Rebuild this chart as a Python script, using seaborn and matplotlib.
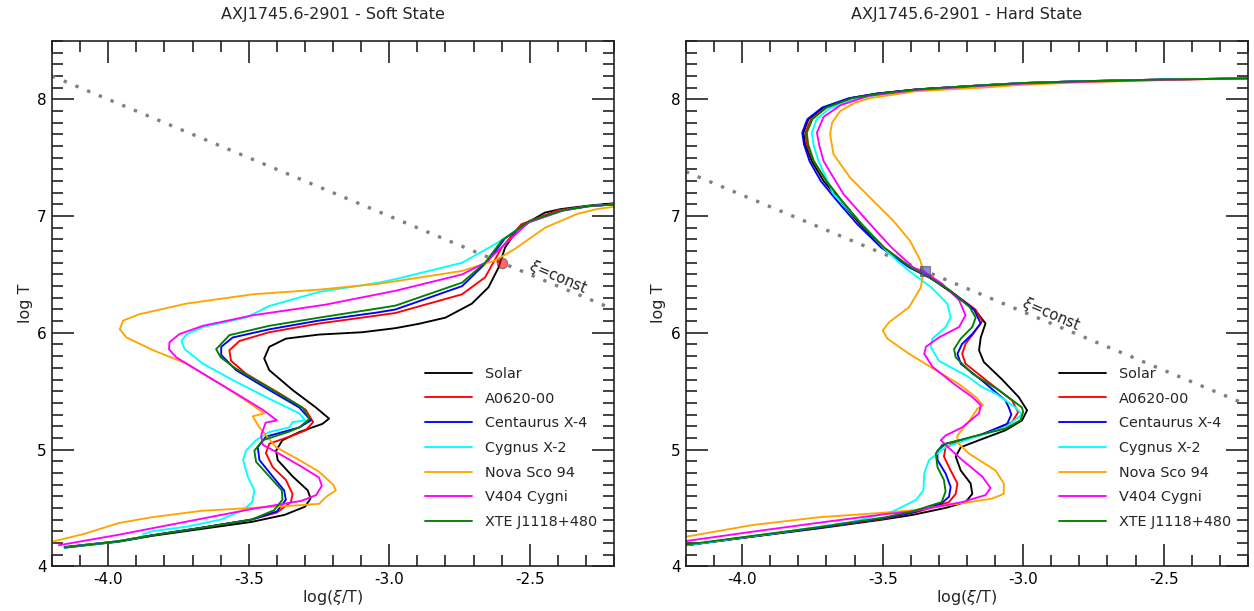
import numpy as np
import pandas as pd
import matplotlib
matplotlib.use("Agg")
import matplotlib.pyplot as plt
from matplotlib.lines import Line2D
from matplotlib.ticker import MultipleLocator
import seaborn as sns

# ---------------- data (log(xi/T), log T) ----------------
series_names = ["Solar", "A0620-00", "Centaurus X-4", "Cygnus X-2",
                "Nova Sco 94", "V404 Cygni", "XTE J1118+480"]
series_colors = ["black", "red", "blue", "cyan", "orange", "magenta", "green"]

# Soft state
soft_solar_x = [-4.155, -3.963, -3.845, -3.668, -3.49, -3.373, -3.30, -3.28, -3.29, -3.344, -3.397, -3.403,
                -3.38, -3.32, -3.238, -3.214, -3.261, -3.344, -3.427, -3.445, -3.427, -3.368, -3.25, -3.096,
                -2.978, -2.895, -2.80, -2.706, -2.647, -2.611, -2.588, -2.54, -2.446, -2.39, -2.29, -2.2]
soft_solar_y = [4.16, 4.21, 4.26, 4.32, 4.38, 4.44, 4.51, 4.58, 4.65, 4.77, 4.91, 4.99,
                5.08, 5.15, 5.22, 5.265, 5.36, 5.51, 5.68, 5.78, 5.88, 5.95, 5.985, 6.005,
                6.04, 6.077, 6.13, 6.25, 6.39, 6.56, 6.73, 6.90, 7.03, 7.06, 7.09, 7.11]

soft_a0620_x = [-4.155, -3.963, -3.845, -3.668, -3.49, -3.40, -3.35, -3.344, -3.368, -3.415, -3.439, -3.427,
                -3.344, -3.297, -3.271, -3.297, -3.39, -3.51, -3.563, -3.569, -3.533, -3.427, -3.25, -3.037,
                -2.978, -2.741, -2.659, -2.60, -2.53, -2.40, -2.29, -2.2]
soft_a0620_y = [4.165, 4.215, 4.265, 4.33, 4.40, 4.46, 4.55, 4.62, 4.74, 4.85, 4.97, 5.05,
                5.12, 5.165, 5.235, 5.34, 5.48, 5.65, 5.76, 5.85, 5.93, 6.005, 6.08, 6.15,
                6.17, 6.33, 6.475, 6.73, 6.93, 7.05, 7.085, 7.10]

soft_cenx4_x = [-4.155, -3.963, -3.845, -3.668, -3.49, -3.40, -3.368, -3.374, -3.415, -3.462, -3.468, -3.439,
                -3.356, -3.32, -3.279, -3.32, -3.427, -3.545, -3.598, -3.598, -3.557, -3.427, -3.25, -3.037,
                -2.978, -2.741, -2.647, -2.588, -2.50, -2.38, -2.29, -2.2]
soft_cenx4_y = [4.165, 4.215, 4.265, 4.33, 4.40, 4.47, 4.57, 4.65, 4.77, 4.91, 5.02, 5.11,
                5.165, 5.19, 5.25, 5.36, 5.51, 5.68, 5.81, 5.88, 5.96, 6.03, 6.105, 6.176,
                6.20, 6.40, 6.62, 6.81, 6.95, 7.05, 7.085, 7.10]

soft_cygx2_x = [-4.155, -3.963, -3.88, -3.875, -3.845, -3.72, -3.60, -3.52, -3.488, -3.48, -3.504, -3.52,
                -3.51, -3.474, -3.427, -3.356, -3.344, -3.30, -3.32, -3.427, -3.545, -3.663, -3.728, -3.74,
                -3.72, -3.663, -3.51, -3.427, -3.25, -3.037, -2.978, -2.741, -2.623, -2.505, -2.388, -2.29, -2.2]
soft_cygx2_y = [4.16, 4.215, 4.25, 4.275, 4.30, 4.34, 4.40, 4.48, 4.55, 4.65, 4.77, 4.91,
                4.99, 5.08, 5.15, 5.19, 5.235, 5.25, 5.31, 5.435, 5.58, 5.735, 5.86, 5.93,
                5.99, 6.05, 6.13, 6.23, 6.35, 6.43, 6.46, 6.60, 6.76, 6.945, 7.045, 7.085, 7.10]

soft_novasco_x = [-4.25, -4.2, -4.082, -3.963, -3.845, -3.668, -3.49, -3.373, -3.25, -3.222, -3.19, -3.20,
                  -3.25, -3.32, -3.403, -3.462, -3.486, -3.445, -3.51, -3.60, -3.72, -3.84, -3.935, -3.959,
                  -3.947, -3.888, -3.722, -3.486, -3.25, -3.037, -2.741, -2.623, -2.552, -2.446, -2.33,
                  -2.26, -2.2]
soft_novasco_y = [4.185, 4.21, 4.28, 4.37, 4.42, 4.475, 4.50, 4.515, 4.535, 4.60, 4.65, 4.70,
                  4.81, 4.91, 5.02, 5.19, 5.285, 5.31, 5.42, 5.56, 5.735, 5.85, 5.96, 6.03,
                  6.105, 6.16, 6.25, 6.33, 6.37, 6.42, 6.53, 6.62, 6.72, 6.90, 7.02,
                  7.06, 7.08]

soft_v404_x = [-4.176, -3.963, -3.727, -3.49, -3.313, -3.26, -3.24, -3.25, -3.31, -3.403, -3.45, -3.456,
               -3.44, -3.40, -3.45, -3.545, -3.663, -3.758, -3.784, -3.782, -3.746, -3.663, -3.486, -3.23,
               -2.978, -2.741, -2.659, -2.588, -2.505, -2.388, -2.29, -2.2]
soft_v404_y = [4.18, 4.27, 4.38, 4.49, 4.56, 4.61, 4.69, 4.76, 4.85, 4.98, 5.04, 5.12,
               5.23, 5.25, 5.34, 5.48, 5.65, 5.79, 5.86, 5.92, 5.99, 6.06, 6.15, 6.24,
               6.36, 6.50, 6.60, 6.76, 6.945, 7.045, 7.085, 7.10]

soft_xte_x = [-4.155, -3.963, -3.845, -3.668, -3.49, -3.41, -3.38, -3.382, -3.427, -3.474, -3.48, -3.45,
              -3.36, -3.32, -3.283, -3.309, -3.433, -3.55, -3.60, -3.616, -3.569, -3.427, -3.25, -3.037,
              -2.978, -2.741, -2.659, -2.60, -2.50, -2.38, -2.29, -2.2]
soft_xte_y = [4.16, 4.215, 4.265, 4.33, 4.40, 4.48, 4.57, 4.65, 4.77, 4.895, 4.99, 5.08,
              5.15, 5.19, 5.265, 5.36, 5.535, 5.70, 5.79, 5.86, 5.98, 6.06, 6.13, 6.21,
              6.233, 6.43, 6.60, 6.79, 6.96, 7.05, 7.085, 7.10]

# Hard state
hard_solar_x = [-4.2, -3.964, -3.727, -3.50, -3.394, -3.276, -3.205, -3.181, -3.187, -3.222, -3.24, -3.222,
                -3.157, -3.063, -3.004, -2.986, -3.016, -3.075, -3.14, -3.157, -3.151, -3.134, -3.169, -3.264,
                -3.332, -3.403, -3.498, -3.58, -3.651, -3.71, -3.752, -3.776, -3.782, -3.764, -3.71, -3.616,
                -3.52, -3.38, -3.15, -3.0, -2.8, -2.5, -2.2]
hard_solar_y = [4.18, 4.253, 4.325, 4.40, 4.44, 4.50, 4.55, 4.62, 4.71, 4.82, 4.94, 5.02,
                5.08, 5.165, 5.25, 5.336, 5.45, 5.60, 5.75, 5.85, 5.96, 6.08, 6.19, 6.36,
                6.475, 6.56, 6.73, 6.93, 7.13, 7.30, 7.47, 7.615, 7.715, 7.83, 7.93, 8.01,
                8.05, 8.085, 8.12, 8.14, 8.155, 8.17, 8.18]

hard_a0620_x = [-4.2, -3.964, -3.727, -3.49, -3.37, -3.264, -3.24, -3.234, -3.258, -3.282, -3.276, -3.217,
                -3.122, -3.039, -3.018, -3.039, -3.122, -3.205, -3.217, -3.205, -3.175, -3.146, -3.17, -3.26,
                -3.33, -3.40, -3.495, -3.575, -3.645, -3.70, -3.745, -3.77, -3.775, -3.755, -3.70, -3.61,
                -3.51, -3.38, -3.15, -3.0, -2.8, -2.5, -2.2]
hard_a0620_y = [4.18, 4.255, 4.33, 4.41, 4.47, 4.55, 4.62, 4.71, 4.82, 4.94, 5.02, 5.08,
                5.15, 5.236, 5.32, 5.42, 5.575, 5.735, 5.82, 5.906, 6.00, 6.10, 6.20, 6.36,
                6.475, 6.56, 6.73, 6.93, 7.13, 7.30, 7.47, 7.615, 7.715, 7.83, 7.93, 8.01,
                8.05, 8.085, 8.12, 8.14, 8.155, 8.17, 8.18]

hard_cenx4_x = [-4.2, -3.964, -3.727, -3.49, -3.394, -3.29, -3.264, -3.258, -3.276, -3.305, -3.305, -3.276,
                -3.157, -3.057, -3.042, -3.051, -3.063, -3.146, -3.222, -3.234, -3.217, -3.181, -3.151, -3.175,
                -3.265, -3.335, -3.405, -3.505, -3.59, -3.662, -3.72, -3.76, -3.78, -3.786, -3.768, -3.715,
                -3.62, -3.52, -3.38, -3.15, -3.0, -2.8, -2.5, -2.2]
hard_cenx4_y = [4.18, 4.255, 4.33, 4.415, 4.46, 4.54, 4.595, 4.68, 4.795, 4.91, 4.99, 5.05,
                5.12, 5.22, 5.30, 5.36, 5.42, 5.59, 5.735, 5.82, 5.906, 5.99, 6.08, 6.20,
                6.37, 6.475, 6.56, 6.73, 6.93, 7.13, 7.30, 7.47, 7.615, 7.715, 7.83, 7.93,
                8.01, 8.05, 8.085, 8.12, 8.14, 8.155, 8.17, 8.18]

hard_cygx2_x = [-4.2, -3.845, -3.609, -3.467, -3.382, -3.355, -3.352, -3.335, -3.276, -3.181, -3.063, -3.004,
                -3.027, -3.098, -3.146, -3.20, -3.30, -3.329, -3.323, -3.276, -3.258, -3.27, -3.327, -3.406,
                -3.44, -3.49, -3.58, -3.675, -3.728, -3.745, -3.752, -3.735, -3.69, -3.60, -3.50, -3.38,
                -3.15, -3.0, -2.8, -2.5, -2.2]
hard_cygx2_y = [4.18, 4.296, 4.381, 4.466, 4.567, 4.65, 4.795, 4.91, 5.02, 5.10, 5.19, 5.30,
                5.36, 5.48, 5.535, 5.63, 5.76, 5.88, 5.95, 6.05, 6.13, 6.25, 6.39, 6.53,
                6.60, 6.71, 6.95, 7.19, 7.47, 7.60, 7.715, 7.83, 7.92, 8.00, 8.045, 8.08,
                8.12, 8.14, 8.155, 8.17, 8.18]

hard_novasco_x = [-4.25, -4.2, -3.964, -3.727, -3.49, -3.394, -3.217, -3.11, -3.069, -3.069, -3.098, -3.193,
                  -3.234, -3.234, -3.19, -3.163, -3.143, -3.169, -3.228, -3.311, -3.406, -3.483, -3.50, -3.477,
                  -3.406, -3.364, -3.355, -3.366, -3.403, -3.462, -3.533, -3.616, -3.675, -3.687, -3.68, -3.651,
                  -3.60, -3.545, -3.38, -3.15, -3.0, -2.8, -2.5, -2.2]
hard_novasco_y = [4.235, 4.253, 4.353, 4.42, 4.46, 4.48, 4.54, 4.58, 4.62, 4.71, 4.82, 4.966,
                  5.06, 5.12, 5.25, 5.35, 5.38, 5.45, 5.56, 5.68, 5.82, 5.95, 6.02, 6.09,
                  6.22, 6.39, 6.53, 6.62, 6.79, 6.96, 7.13, 7.33, 7.53, 7.70, 7.80, 7.90,
                  7.97, 8.01, 8.07, 8.10, 8.125, 8.145, 8.165, 8.18]

hard_v404_x = [-4.2, -3.964, -3.727, -3.49, -3.394, -3.217, -3.134, -3.116, -3.146, -3.217, -3.276, -3.293,
               -3.276, -3.217, -3.157, -3.151, -3.181, -3.245, -3.323, -3.352, -3.346, -3.30, -3.228, -3.205,
               -3.228, -3.288, -3.35, -3.391, -3.468, -3.533, -3.64, -3.71, -3.725, -3.734, -3.71, -3.65,
               -3.55, -3.38, -3.15, -3.0, -2.8, -2.5, -2.2]
hard_v404_y = [4.216, 4.296, 4.373, 4.447, 4.47, 4.55, 4.61, 4.67, 4.77, 4.91, 5.04, 5.08,
               5.12, 5.19, 5.31, 5.38, 5.45, 5.56, 5.71, 5.82, 5.88, 5.96, 6.05, 6.15,
               6.28, 6.42, 6.52, 6.56, 6.73, 6.90, 7.19, 7.47, 7.60, 7.715, 7.85, 7.95,
               8.03, 8.08, 8.115, 8.135, 8.15, 8.167, 8.18]

hard_xte_x = [-4.2, -3.964, -3.727, -3.49, -3.394, -3.29, -3.276, -3.282, -3.305, -3.311, -3.288, -3.181,
              -3.063, -3.01, -3.0, -3.004, -3.087, -3.181, -3.24, -3.246, -3.222, -3.181, -3.169, -3.19,
              -3.265, -3.335, -3.40, -3.495, -3.575, -3.645, -3.70, -3.745, -3.765, -3.77, -3.75, -3.70,
              -3.61, -3.51, -3.38, -3.15, -3.0, -2.8, -2.5, -2.2]
hard_xte_y = [4.185, 4.26, 4.335, 4.42, 4.47, 4.55, 4.64, 4.74, 4.85, 4.966, 5.04, 5.11,
              5.18, 5.25, 5.32, 5.36, 5.51, 5.65, 5.79, 5.86, 5.95, 6.05, 6.13, 6.22,
              6.37, 6.475, 6.56, 6.73, 6.93, 7.13, 7.30, 7.47, 7.615, 7.715, 7.83, 7.93,
              8.01, 8.05, 8.085, 8.12, 8.14, 8.155, 8.17, 8.18]

# xi = const reference lines and marked points
xi_line_x = [-4.2, -2.2]
soft_xi_line_y = [8.2, 6.2]
hard_xi_line_y = [7.38, 5.38]
soft_point = (-2.6, 6.6)
hard_point = (-3.35, 6.53)

panel_titles = ["AXJ1745.6-2901 - Soft State", "AXJ1745.6-2901 - Hard State"]
x_label = r"log($\xi$/T)"
y_label = "log T"
xi_label = r"$\xi$=const"

# ---------------- build tables ----------------
def build(xs, ys):
    frames = []
    for name, x, y in zip(series_names, xs, ys):
        frames.append(pd.DataFrame({"x": x, "y": y, "series": name,
                                    "order": np.arange(len(x))}))
    return pd.concat(frames, ignore_index=True)

soft_df = build([soft_solar_x, soft_a0620_x, soft_cenx4_x, soft_cygx2_x,
                 soft_novasco_x, soft_v404_x, soft_xte_x],
                [soft_solar_y, soft_a0620_y, soft_cenx4_y, soft_cygx2_y,
                 soft_novasco_y, soft_v404_y, soft_xte_y])
hard_df = build([hard_solar_x, hard_a0620_x, hard_cenx4_x, hard_cygx2_x,
                 hard_novasco_x, hard_v404_x, hard_xte_x],
                [hard_solar_y, hard_a0620_y, hard_cenx4_y, hard_cygx2_y,
                 hard_novasco_y, hard_v404_y, hard_xte_y])

# ---------------- style ----------------
sns.set_theme(style="white")
plt.rcParams["font.family"] = ["DejaVu Sans"]
plt.rcParams["axes.linewidth"] = 1.0
plt.rcParams["axes.edgecolor"] = "#222222"

fig = plt.figure(figsize=(12.54, 6.11), dpi=100)
ax_l = fig.add_axes([0.0415, 0.0732, 0.4482, 0.8597])
ax_r = fig.add_axes([0.5470, 0.0732, 0.4482, 0.8597])

palette = dict(zip(series_names, series_colors))

panels = [
    (ax_l, soft_df, soft_xi_line_y, soft_point, "o", "red", (-2.40, 6.475)),
    (ax_r, hard_df, hard_xi_line_y, hard_point, "s", "#3a3ad0", (-2.90, 6.16)),
]

for i, (ax, df, xi_y, pt, mk, mc, txt_pos) in enumerate(panels):
    sns.lineplot(data=df, x="x", y="y", hue="series", hue_order=series_names,
                 palette=palette, sort=False, estimator=None, linewidth=1.35,
                 legend=False, ax=ax)
    for ln in ax.get_lines():
        ln.set_solid_joinstyle("round")
    ax.plot(xi_line_x, xi_y, color="#808080", linewidth=2.4,
            linestyle=(0, (1, 2.8)), dash_capstyle="butt", zorder=1)
    ax.plot([pt[0]], [pt[1]], marker=mk, markersize=7.5, color=mc, alpha=0.6,
            markeredgecolor="#444444", markeredgewidth=0.8, linestyle="none", zorder=5)
    ax.text(txt_pos[0], txt_pos[1], xi_label, rotation=-23, fontsize=10.5,
            ha="center", va="center", rotation_mode="anchor", color="#222222")

    ax.set_xlim(-4.2, -2.2)
    ax.set_ylim(4.0, 8.5)
    ax.xaxis.set_major_locator(MultipleLocator(0.5))
    ax.xaxis.set_minor_locator(MultipleLocator(0.1))
    ax.yaxis.set_major_locator(MultipleLocator(1.0))
    ax.yaxis.set_minor_locator(MultipleLocator(0.1))
    ax.set_xticks([-4.0, -3.5, -3.0, -2.5])
    ax.set_xticklabels(["-4.0", "-3.5", "-3.0", "-2.5"])
    ax.set_yticks([4, 5, 6, 7, 8])
    ax.set_yticklabels(["4", "5", "6", "7", "8"])
    ax.tick_params(which="major", direction="in", length=16, width=1.2,
                   top=True, right=True, bottom=True, left=True, labelsize=11,
                   pad=4, colors="#222222", labelcolor="black")
    ax.tick_params(which="minor", direction="in", length=8, width=1.2,
                   top=True, right=True, bottom=True, left=True, colors="#222222")
    for s in ax.spines.values():
        s.set_visible(True)
        s.set_linewidth(1.2)
    ax.set_xlabel(x_label, fontsize=11.5, labelpad=1)
    ax.set_ylabel(y_label, fontsize=11.5, labelpad=3)
    ax.set_title(panel_titles[i], fontsize=11.5, pad=16)

    handles = [Line2D([0], [0], color=c, lw=1.35) for c in series_colors]
    ax.legend(handles, series_names, loc="lower left", bbox_to_anchor=(0.664, 0.071),
              frameon=False, fontsize=10.4, handlelength=3.25, handletextpad=0.9,
              labelspacing=0.74, borderpad=0, borderaxespad=0)

fig.savefig("out.png", dpi=100)
